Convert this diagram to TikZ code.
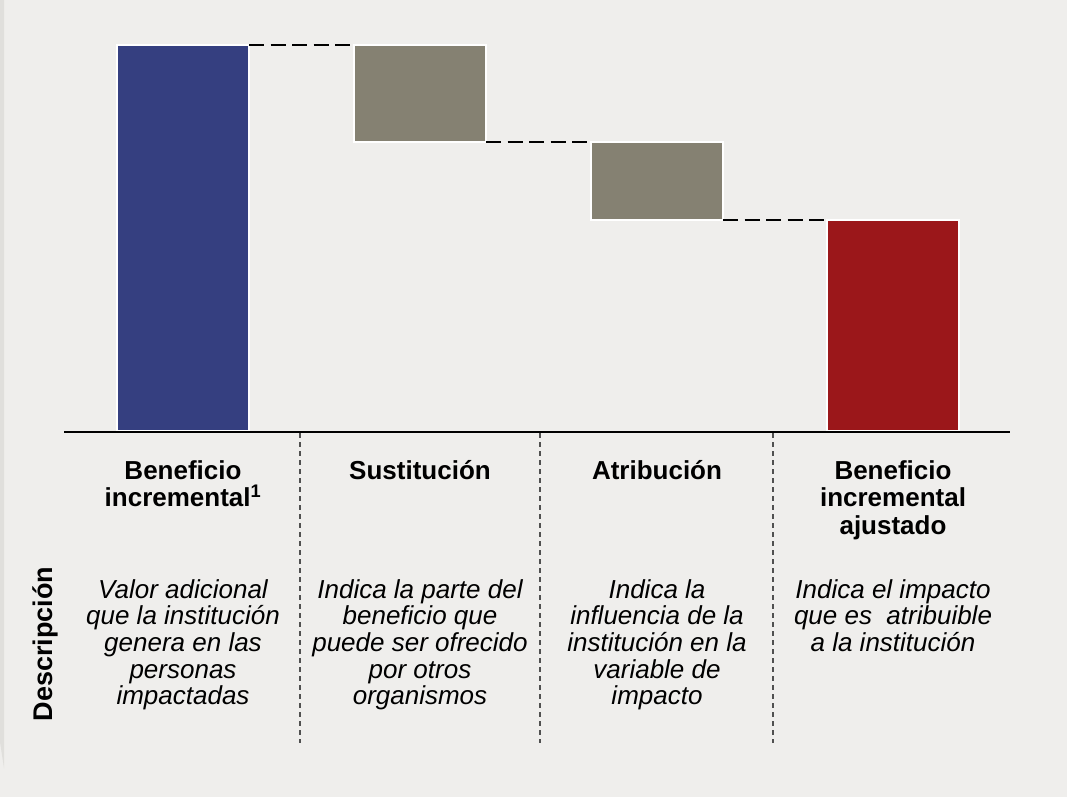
\documentclass[tikz,border=0pt]{standalone}
\usepackage{fontspec}
\setmainfont{Liberation Sans}
\definecolor{bgc}{HTML}{EFEEEC}
\definecolor{stripc}{HTML}{E0DFDC}
\definecolor{barblue}{HTML}{353F80}
\definecolor{bargray}{HTML}{858172}
\definecolor{barred}{HTML}{9B171A}
\definecolor{divc}{HTML}{505050}
\tikzset{
  bar/.style={draw=white, line width=2pt, outer sep=0pt, inner sep=0pt, minimum width=132pt},
  conn/.style={draw=black, line width=2.4pt, dash pattern=on 15pt off 6.5pt},
  divline/.style={draw=divc, line width=1.8pt, dash pattern=on 5pt off 4pt},
  head/.style={anchor=base, align=center, inner sep=0pt, font=\bfseries\fontsize{26}{27.5}\selectfont},
  desc/.style={anchor=base, align=center, inner sep=0pt, font=\itshape\fontsize{26}{26.7}\selectfont},
}
\begin{document}
\begin{tikzpicture}[x=1pt,y=-1pt]
\useasboundingbox (0,0) rectangle (1067,797);
\fill[bgc] (0,0) rectangle (1067,797);
\fill[stripc] (0,0) -- (4,0) -- (4,768) -- (0,742) -- cycle;
% bars
\node[bar, fill=barblue, minimum height=386pt] (b1) at (183,238) {};
\node[bar, fill=bargray, minimum height=97pt] (b2) at (420,93.5) {};
\node[bar, fill=bargray, minimum height=78pt] (b3) at (657,181) {};
\node[bar, fill=barred, minimum height=211pt] (b4) at (893,325.5) {};
% connectors
\draw[conn] (b1.north east) -- (b2.north west);
\draw[conn] (b2.south east) -- (b3.north west);
\draw[conn] (b3.south east) -- (b4.north west);
% axis
\coordinate (axL) at (64,432);
\coordinate (axR) at (1010,432);
\draw[line width=2pt] (axL) -- (axR);
% dividers
\coordinate (d1t) at (300,433); \coordinate (d1b) at (300,743);
\coordinate (d2t) at (540,433); \coordinate (d2b) at (540,743);
\coordinate (d3t) at (773,433); \coordinate (d3b) at (773,743);
\draw[divline] (d1t) -- (d1b);
\draw[divline] (d2t) -- (d2b);
\draw[divline] (d3t) -- (d3b);
% headings (base anchor = baseline of last line)
\node[head] (h1) at (183,506.5) {Beneficio\\incremental\textsuperscript{1}};
\node[head] (h2) at (420,479) {Sustitución};
\node[head] (h3) at (657,479) {Atribución};
\node[head] (h4) at (893,534) {Beneficio\\incremental\\ajustado};
% descriptions
\node[desc] (t1) at (183,704.8) {Valor adicional\\que la institución\\genera en las\\personas\\impactadas};
\node[desc] (t2) at (420,704.8) {Indica la parte del\\beneficio que\\puede ser ofrecido\\por otros\\organismos};
\node[desc] (t3) at (657,704.8) {Indica la\\influencia de la\\institución en la\\variable de\\impacto};
\node[desc] (t4) at (893,651.4) {Indica el impacto\\que es\ \ atribuible\\a la institución};
% side label
\node[anchor=base, inner sep=0pt, rotate=90, font=\bfseries\fontsize{27}{28}\selectfont] (lab) at (52,644) {Descripción};
\end{tikzpicture}
\end{document}
